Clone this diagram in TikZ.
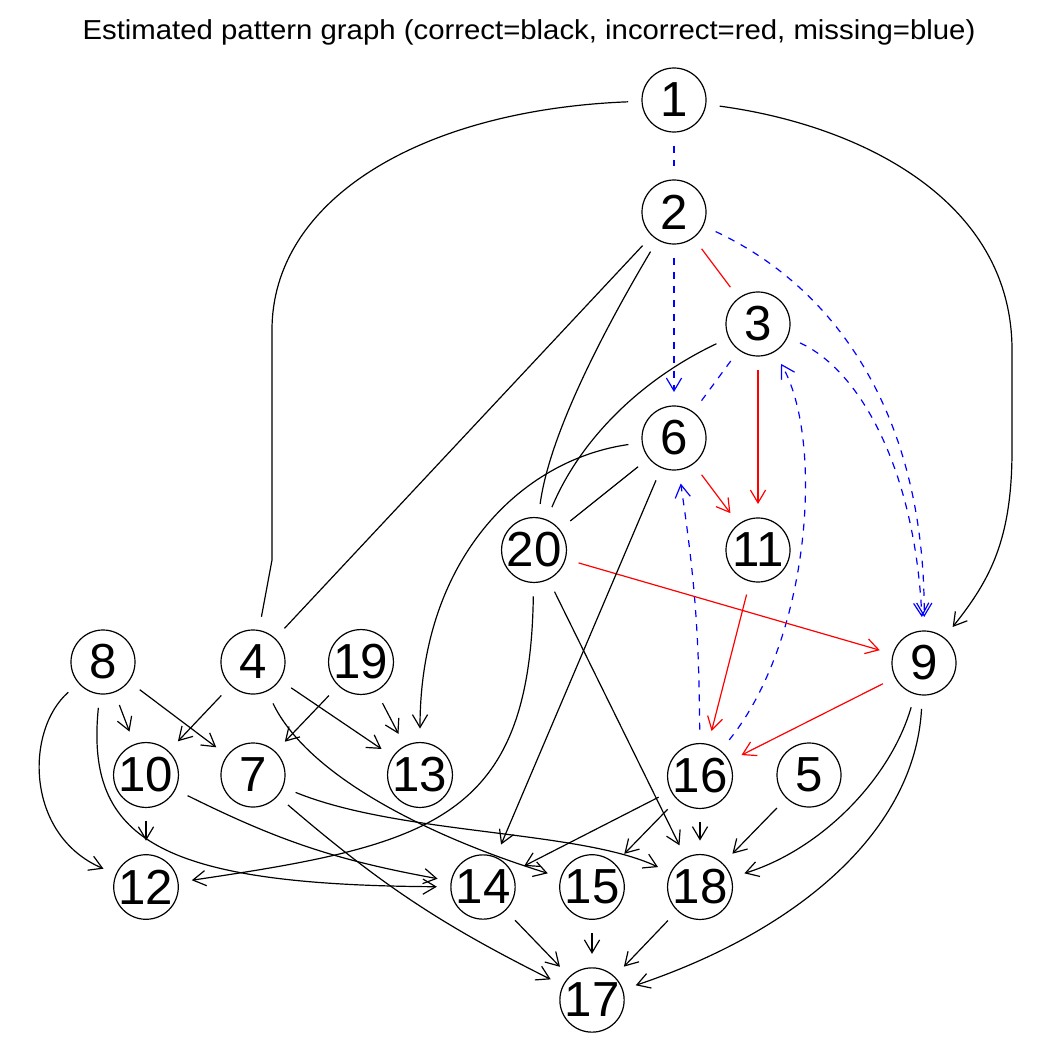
\documentclass[tikz,border=0pt]{standalone}
\usepackage{fontspec}
\setmainfont{Liberation Sans}
\usepackage{tikz}
\usetikzlibrary{arrows.meta}

\begin{document}
\begin{tikzpicture}[
    x=0.025cm, y=0.025cm,
    vtx/.style={circle, draw, line width=0.85pt, minimum size=1.6cm, inner sep=0pt, outer sep=0.35cm, font=\fontsize{35}{35}\selectfont},
    good/.style={line width=0.85pt, black},
    bad/.style={line width=0.85pt, red},
    miss/.style={line width=0.85pt, blue, dash pattern=on 5pt off 5pt},
    arr/.style={-{Straight Barb[length=3.2mm, width=3.8mm]}}
]
\useasboundingbox (0,0) rectangle (1050,-1050);
\node[font=\fontsize{19.5}{20}\selectfont, anchor=base] (title) at (529,-39.5) {\scalebox{1.07}[1]{Estimated pattern graph (correct=black, incorrect=red, missing=blue)}};
% vertices
\node[vtx] (n1) at (674,-100) {1};
\node[vtx] (n2) at (674,-212) {2};
\node[vtx] (n3) at (758,-324) {3};
\node[vtx] (n6) at (674,-438) {6};
\node[vtx] (n20) at (534,-550) {20};
\node[vtx] (n11) at (758,-550) {11};
\node[vtx] (n8) at (103,-662) {8};
\node[vtx] (n4) at (253,-662) {4};
\node[vtx] (n19) at (361,-662) {19};
\node[vtx] (n9) at (924,-663) {9};
\node[vtx] (n10) at (146,-775) {10};
\node[vtx] (n7) at (253,-775) {7};
\node[vtx] (n13) at (420,-775) {13};
\node[vtx] (n16) at (700,-776) {16};
\node[vtx] (n5) at (809,-775) {5};
\node[vtx] (n12) at (146,-887) {12};
\node[vtx] (n14) at (483,-887) {14};
\node[vtx] (n15) at (592,-887) {15};
\node[vtx] (n18) at (700,-887) {18};
\node[vtx] (n17) at (592,-1000) {17};
% missing edges
\draw[miss] (n1) -- (n2);
\draw[miss,arr] (n2) -- (n6);
\draw[miss] (n3) -- (n6);
\draw[miss,arr] (n2) .. controls (840,-290) and (925,-420) .. (n9);
\draw[miss,arr] (n3) .. controls (860,-370) and (915,-470) .. (n9);
\draw[miss,arr] (n16) .. controls (810,-640) and (825,-440) .. (n3);
\draw[miss,arr] (n16) to[bend right=4] (n6);
% incorrect edges
\draw[bad] (n2) -- (n3);
\draw[bad,arr] (n3) -- (n11);
\draw[bad,arr] (n6) -- (n11);
\draw[bad,arr] (n20) -- (n9);
\draw[bad,arr] (n11) -- (n16);
\draw[bad,arr] (n9) -- (n16);
% correct edges
\draw[good] (n1) .. controls (420,-110) and (272,-200) .. (272,-330) -- (272,-560) -- (n4);
\draw[good,arr] (n1) .. controls (860,-125) and (1012,-200) .. (1012,-350) -- (1012,-450) .. controls (1012,-540) and (990,-580) .. (n9);
\draw[good] (n2) -- (n4);
\draw[good] (n2) .. controls (610,-320) and (550,-430) .. (n20);
\draw[good] (n3) .. controls (640,-380) and (580,-440) .. (n20);
\draw[good] (n6) -- (n20);
\draw[good,arr] (n6) .. controls (520,-460) and (420,-560) .. (n13);
\draw[good,arr] (n6) -- (n14);
\draw[good,arr] (n20) .. controls (530,-820) and (430,-845) .. (n12);
\draw[good,arr] (n20) -- (n18);
\draw[good,arr] (n9) .. controls (890,-780) and (820,-850) .. (n18);
\draw[good,arr] (n9) .. controls (915,-830) and (800,-930) .. (n17);
\draw[good,arr] (n8) -- (n10);
\draw[good,arr] (n8) -- (n7);
\draw[good,arr] (n8) .. controls (25,-730) and (25,-835) .. (n12);
\draw[good,arr] (n8) .. controls (85,-840) and (160,-885) .. (n14);
\draw[good,arr] (n4) -- (n10);
\draw[good,arr] (n4) -- (n13);
\draw[good,arr] (n4) .. controls (310,-780) and (440,-840) .. (n15);
\draw[good,arr] (n19) -- (n7);
\draw[good,arr] (n19) -- (n13);
\draw[good,arr] (n10) -- (n12);
\draw[good,arr] (n10) to[bend right=8] (n14);
\draw[good,arr] (n7) .. controls (400,-835) and (580,-830) .. (n18);
\draw[good,arr] (n7) to[bend right=7] (n17);
\draw[good,arr] (n16) -- (n14);
\draw[good,arr] (n16) -- (n15);
\draw[good,arr] (n16) -- (n18);
\draw[good,arr] (n5) -- (n18);
\draw[good,arr] (n14) -- (n17);
\draw[good,arr] (n15) -- (n17);
\draw[good,arr] (n18) -- (n17);
\end{tikzpicture}
\end{document}
